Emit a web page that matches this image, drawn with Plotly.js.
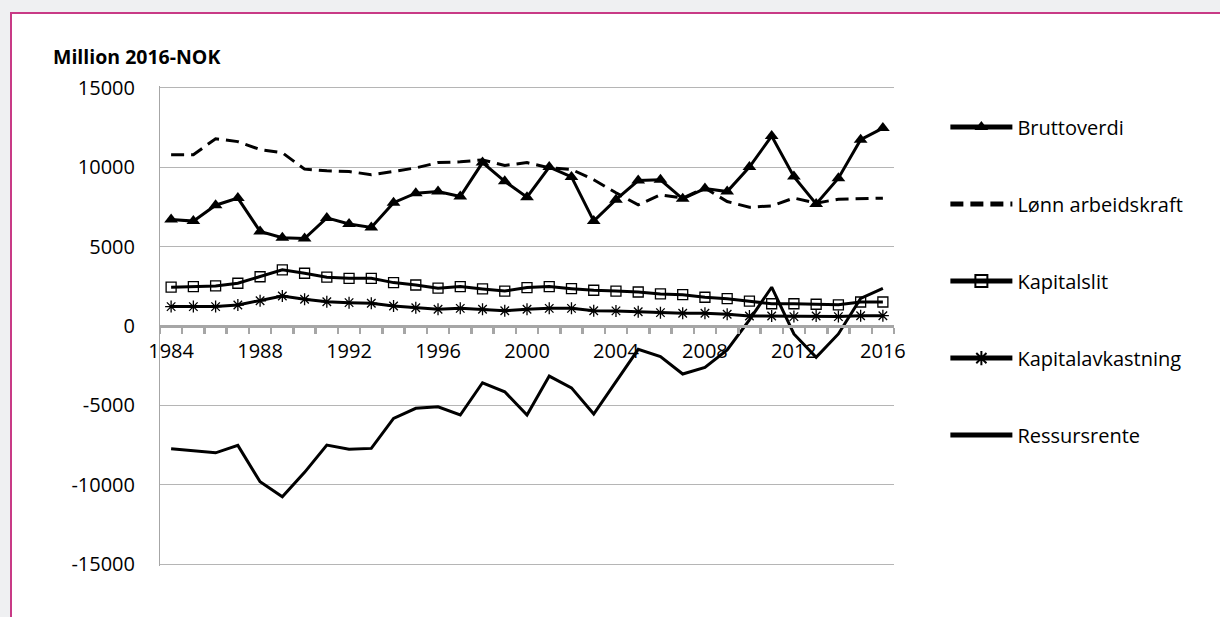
<!DOCTYPE html>
<html>
<head>
<meta charset="utf-8">
<script src="https://cdn.plot.ly/plotly-3.0.1.min.js"></script>
<style>
  html, body { margin: 0; padding: 0; background: #eff0f2; }
  #wrap { position: relative; width: 1220px; height: 617px; overflow: hidden; background: #eff0f2; }
  #frame { position: absolute; left: 10px; top: 12px; width: 1240px; height: 640px; background: #ffffff;
           border-left: 2px solid #c83a86; border-top: 2px solid #c83a86; }
  .edge { position: absolute; left: 160px; width: 734px; height: 1px; background: #b5b5b5; }
  #chart { position: absolute; left: 0; top: 0; width: 1220px; height: 617px; }
</style>
</head>
<body>
<div id="wrap">
  <div id="frame"></div>
  <div class="edge" style="top:87px"></div>
  <div class="edge" style="top:564px"></div>
  <div id="chart"></div>
</div>
<script>
const years = [1984,1985,1986,1987,1988,1989,1990,1991,1992,1993,1994,1995,1996,1997,1998,1999,
               2000,2001,2002,2003,2004,2005,2006,2007,2008,2009,2010,2011,2012,2013,2014,2015,2016];
const xTickLabels = [1984,1988,1992,1996,2000,2004,2008,2012,2016];
const yTickValues = [-15000,-10000,-5000,0,5000,10000,15000];

const bruttoverdi = [6700,6600,7600,8050,5950,5550,5500,6800,6420,6200,7760,8360,8460,8150,10280,9100,
                     8100,10000,9380,6600,7950,9150,9200,8000,8650,8460,10000,11950,9400,7680,9300,11720,12450];
const lonnArbeidskraft = [10780,10780,11780,11600,11100,10900,9870,9760,9720,9520,9720,9950,10280,10330,10450,10100,
                          10280,9950,9850,9200,8380,7620,8250,8050,8680,7830,7470,7560,8050,7730,7980,7990,8040];
const kapitalslit = [2440,2480,2520,2690,3100,3530,3320,3070,3000,3000,2730,2580,2380,2480,2330,2200,
                     2420,2480,2350,2250,2200,2140,2020,1970,1810,1720,1560,1400,1400,1370,1330,1510,1510];
const kapitalavkastning = [1220,1220,1220,1320,1590,1890,1680,1530,1470,1430,1260,1150,1050,1110,1050,960,
                           1050,1110,1110,960,950,900,840,800,800,740,630,630,590,630,590,650,650];
const ressursrente = [-7730,-7850,-7980,-7510,-9800,-10750,-9210,-7490,-7750,-7700,-5810,-5180,-5080,-5600,-3570,-4140,
                      -5600,-3150,-3890,-5540,-3510,-1470,-1930,-3020,-2600,-1510,380,2440,-500,-1970,-500,1740,2370];

const names = ['Bruttoverdi','Lønn arbeidskraft','Kapitalslit','Kapitalavkastning','Ressursrente'];

const traces = [
  {x: years, y: bruttoverdi, name: names[0], legendgroup: 'g1', mode: 'lines+markers',
   line: {color: '#000', width: 3},
   marker: {symbol: 'triangle-up', size: 12, color: '#000'}},
  {x: years, y: lonnArbeidskraft, name: names[1], legendgroup: 'g2', mode: 'lines',
   line: {color: '#000', width: 3, dash: '13px,7px'}},
  {x: years, y: kapitalslit, name: names[2], legendgroup: 'g3', mode: 'lines+markers',
   line: {color: '#000', width: 3},
   marker: {symbol: 'square-open', size: 10, color: '#000', line: {color: '#000', width: 1.3}}},
  {x: years, y: kapitalavkastning, name: names[3], legendgroup: 'g4', mode: 'lines+markers',
   line: {color: '#000', width: 3},
   marker: {symbol: 'asterisk-open', size: 10, color: '#000', line: {color: '#000', width: 1.3}}},
  {x: years, y: ressursrente, name: names[4], legendgroup: 'g5', mode: 'lines',
   line: {color: '#000', width: 3}}
];

const font = "'Open Sans', 'Noto Sans', sans-serif";

const layout = {
  width: 1220, height: 617,
  paper_bgcolor: 'rgba(0,0,0,0)',
  plot_bgcolor: 'rgba(0,0,0,0)',
  margin: {l: 160, r: 326, t: 86, b: 51},
  font: {family: font, size: 20, color: '#000'},
  showlegend: true,
  title: {
    text: '<b>Million 2016-NOK</b>',
    font: {family: font, size: 19.5, color: '#000'},
    xref: 'container', yref: 'container',
    x: 53/1220, xanchor: 'left',
    y: 1 - 57/617, yanchor: 'middle'
  },
  xaxis: {
    range: [1983.5, 2016.5],
    tickvals: xTickLabels,
    ticktext: xTickLabels.map(String),
    ticks: 'outside', ticklen: 6, tickcolor: 'rgba(0,0,0,0)',
    showgrid: false, zeroline: false,
    showline: true, linecolor: '#a6a6a6', linewidth: 3,
    anchor: 'free', position: 0.5,
    tickfont: {family: font, size: 20, color: '#000'},
    minor: {tick0: 1983.5, dtick: 1, ticks: 'outside', ticklen: 6, tickwidth: 2.5, tickcolor: '#a6a6a6', showgrid: false}
  },
  yaxis: {
    range: [-15100, 15100],
    tickvals: yTickValues,
    ticktext: yTickValues.map(String),
    showgrid: true, gridcolor: '#b5b5b5', gridwidth: 1,
    zeroline: false,
    showline: true, linecolor: '#a6a6a6', linewidth: 1,
    ticks: 'outside', ticklen: 20, tickcolor: 'rgba(0,0,0,0)',
    tickfont: {family: font, size: 20, color: '#000'}
  },
  legend: {
    x: 1.07, xanchor: 'left',
    y: 0.955, yanchor: 'top',
    bgcolor: 'rgba(0,0,0,0)',
    font: {family: font, size: 20, color: '#000'},
    itemwidth: 62,
    tracegroupgap: 48,
    traceorder: 'grouped',
    itemsizing: 'constant'
  }
};

Plotly.newPlot('chart', traces, layout, {displayModeBar: false, staticPlot: true});
</script>
</body>
</html>
